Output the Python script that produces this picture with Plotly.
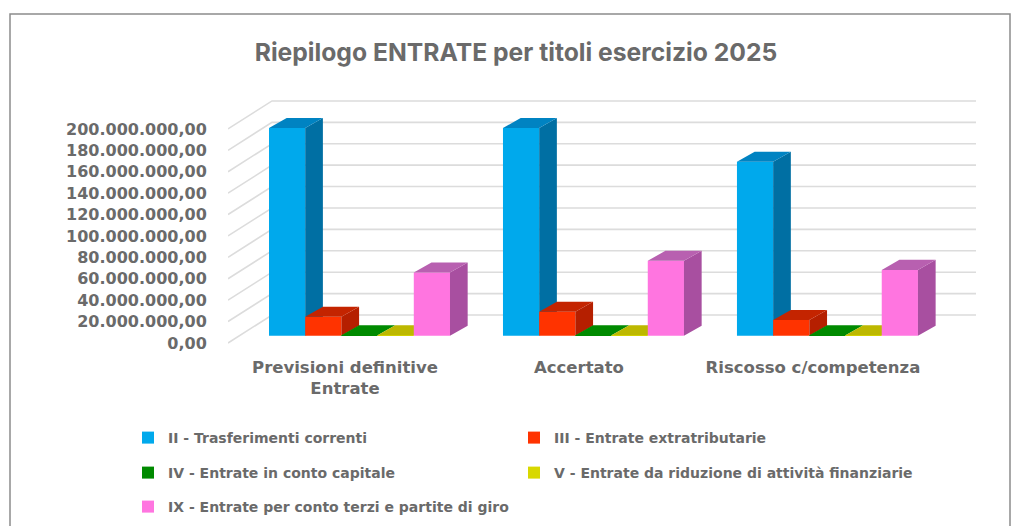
import plotly.graph_objects as go

W, H = 1035, 526
categories = ["Previsioni definitive<br>Entrate", "Accertato", "Riscosso c/competenza"]
series_names = ["II - Trasferimenti correnti", "III - Entrate extratributarie", "IV - Entrate in conto capitale",
                "V - Entrate da riduzione di attività finanziarie", "IX - Entrate per conto terzi e partite di giro"]
trasferimenti = [194e6, 194e6, 162.5e6]
extratributarie = [17.8e6, 22.4e6, 14.7e6]
conto_capitale = [0.4e6, 0.4e6, 0.4e6]
riduzione_attivita = [0.3e6, 0.3e6, 0.3e6]
conto_terzi = [59e6, 70e6, 61.5e6]
tick_values = [0, 20e6, 40e6, 60e6, 80e6, 100e6, 120e6, 140e6, 160e6, 180e6, 200e6]
tick_labels = ["0,00", "20.000.000,00", "40.000.000,00", "60.000.000,00", "80.000.000,00", "100.000.000,00",
               "120.000.000,00", "140.000.000,00", "160.000.000,00", "180.000.000,00", "200.000.000,00"]
values = [trasferimenti, extratributarie, conto_capitale, riduzione_attivita, conto_terzi]
front_colors = ["#00A9EC", "#FF3300", "#008A00", "#D8D800", "#FF75E0"]
side_colors = ["#006FA3", "#B51F00", "#005E00", "#9A9A00", "#A84FA0"]
top_colors = ["#0083C2", "#C42400", "#008A00", "#BDB800", "#B860B0"]

XR = [-0.562, 2.652]
YR = [-9.63e6, 222.1e6]
BW = 0.1547
DX, DY = 0.0756, 9.35e6
FX, BX, RX = -0.562, -0.374, 2.635
FY, BY = -6.8e6, 19.35e6
TEXT = "#6A6A6A"

fig = go.Figure()
wx, wy = [], []
for v in tick_values:
    wx += [FX, BX, RX, None]
    wy += [v + FY, v + BY, v + BY, None]
fig.add_trace(go.Scatter(x=wx, y=wy, mode="lines", line=dict(color="#DCDCDC", width=1.6),
                         hoverinfo="skip", showlegend=False))

for k, (name, vals) in enumerate(zip(series_names, values)):
    ax = str(k + 2)
    xa, ya = "x" + ax, "y" + ax
    off = (k - 2.5) * BW
    lg = "legend" if k == 0 else "legend" + str(k + 1)
    fig.add_trace(go.Bar(x=[0, 1, 2], y=vals, name=name, width=BW, offset=off, marker=dict(color=front_colors[k], line=dict(width=0)),
                         xaxis=xa, yaxis=ya, legend=lg, legendgroup=name))
    sx, sy, tx, ty = [], [], [], []
    for i, v in enumerate(vals):
        l, r = i + off, i + off + BW
        sx += [r, r + DX, r + DX, r, r, None]
        sy += [0, DY, v + DY, v, 0, None]
        tx += [l, r, r + DX, l + DX, l, None]
        ty += [v, v, v + DY, v + DY, v, None]
    fig.add_trace(go.Scatter(x=sx, y=sy, mode="lines", fill="toself", fillcolor=side_colors[k], line=dict(width=0),
                             xaxis=xa, yaxis=ya, hoverinfo="skip", showlegend=False, legendgroup=name))
    fig.add_trace(go.Scatter(x=tx, y=ty, mode="lines", fill="toself", fillcolor=top_colors[k], line=dict(width=0),
                             xaxis=xa, yaxis=ya, hoverinfo="skip", showlegend=False, legendgroup=name))

PL, PR, PT, PB = 228, W - 55, 98, H - 180
layout = dict(
    width=W, height=H, autosize=False,
    margin=dict(l=PL, r=W - PR, t=PT, b=H - PB, pad=0, autoexpand=False),
    paper_bgcolor="white", plot_bgcolor="white",
    font=dict(family="DejaVu Sans", color=TEXT),
    title=dict(text="<b>Riepilogo ENTRATE per titoli esercizio 2025</b>", x=516 / W, xanchor="center",
               y=1 - 52 / H, yanchor="middle", font=dict(family="Inter", size=24.7, color=TEXT)),
    xaxis=dict(range=XR, showgrid=False, zeroline=False, showline=False, tickmode="array",
               tickvals=[i - 0.062 for i in range(3)], ticktext=categories, ticks="outside", ticklen=6,
               tickcolor="rgba(0,0,0,0)", tickfont=dict(family="DejaVu Sans", size=16.5, color=TEXT, weight="bold")),
    yaxis=dict(range=YR, showgrid=False, zeroline=False, showline=False, tickmode="array",
               tickvals=[v + FY for v in tick_values], ticktext=tick_labels, ticks="outside", ticklen=17,
               tickcolor="rgba(0,0,0,0)", tickfont=dict(family="DejaVu Sans", size=16, color=TEXT, weight="bold")),
    shapes=[dict(type="path", xref="x domain", yref="y domain",
                 path=f"M {(10-PL)/(PR-PL)} {(PB-H)/(PB-PT)} L {(10-PL)/(PR-PL)} {(PB-14)/(PB-PT)} "
                      f"L {(1010-PL)/(PR-PL)} {(PB-14)/(PB-PT)} L {(1010-PL)/(PR-PL)} {(PB-H)/(PB-PT)}",
                 line=dict(color="#8C8C8C", width=1.5))],
)
for k in range(5):
    ax = str(k + 2)
    layout["xaxis" + ax] = dict(range=XR, overlaying="x", visible=False)
    layout["yaxis" + ax] = dict(range=YR, overlaying="y", visible=False)
def lx(px): return (px - PL) / (PR - PL)
def ly(py): return (PB - py) / (PB - PT)
positions = [(128, 438), (514, 438), (128, 473), (514, 473), (128, 507)]
for k, (px, py) in enumerate(positions):
    key = "legend" if k == 0 else "legend" + str(k + 1)
    layout[key] = dict(x=lx(px), y=ly(py), xanchor="left", yanchor="middle",
                       bgcolor="rgba(0,0,0,0)", font=dict(family="DejaVu Sans", size=14, color=TEXT, weight="bold"),
                       itemclick=False, itemdoubleclick=False)
fig.update_layout(**layout)
fig.write_html("out.html", post_script="document.body.style.margin='0';", config={"displayModeBar": False})
